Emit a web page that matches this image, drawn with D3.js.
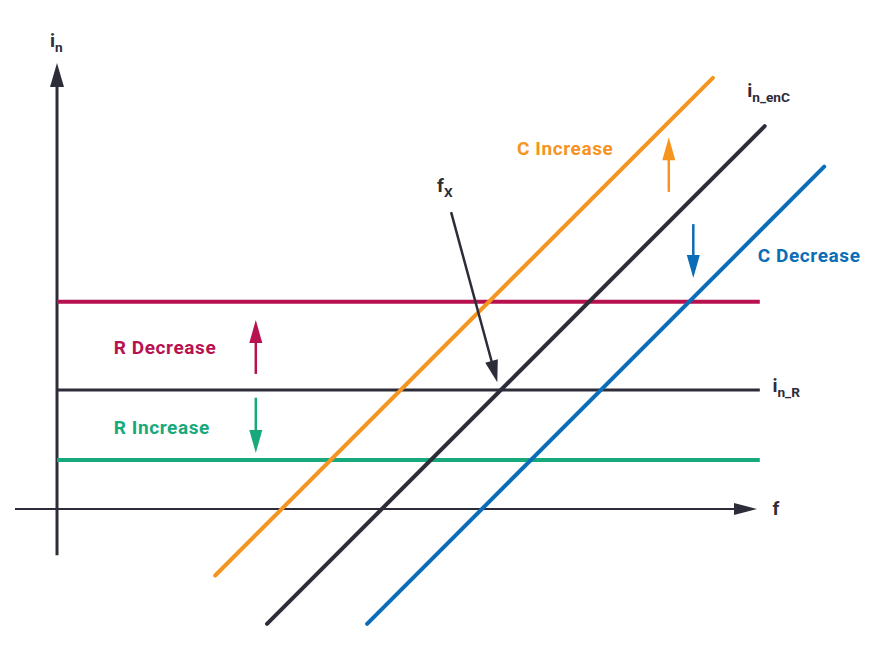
<!DOCTYPE html>
<html>
<head>
<meta charset="utf-8">
<script src="https://cdn.jsdelivr.net/npm/d3@7"></script>
<style>
  body { margin: 0; background: #fff; }
  text { font-family: Roboto, Inter, "Noto Sans", sans-serif; font-weight: 700; }
</style>
</head>
<body>
<div id="graph"></div>
<script>
// horizontal noise levels (R lines)
const levelNames = ["R Decrease", "in_R", "R Increase"];
const levelValues = [29.6, 17, 7];
const levelColors = ["#b7124f", "#2d2d39", "#17a97c"];

// diagonal noise lines (C lines): x where line crosses f axis, start and end in x
const slopeNames = ["C Increase", "in_enC", "C Decrease"];
const slopeIntercepts = [32.1, 46.4, 60.7];
const slopeStarts = [22.6, 30.0, 44.3];
const slopeEnds = [93.7, 101.1, 109.6];
const slopeColors = ["#f5941f", "#2d2d39", "#0b6db7"];

// small change arrows: [x, yFrom, yTo]
const arrowX = [87.4, 90.9, 28.4, 28.4];
const arrowFrom = [45.3, 40.7, 19.3, 15.9];
const arrowTo = [53.1, 33.0, 27.0, 8.0];
const arrowColors = ["#f5941f", "#0b6db7", "#b7124f", "#17a97c"];

// fx pointer
const fxFrom = [56.3, 42.4];
const fxTo = [62.9, 18.1];

let options = {
  width: 879,
  height: 645,
  dark: "#2d2d39"
};

let svg = d3.select("#graph")
  .append("svg")
  .attr("width", options.width)
  .attr("height", options.height);

let x = d3.scaleLinear().domain([0, 100]).range([57, 757]);
let y = d3.scaleLinear().domain([0, 64]).range([509, 61]);

let line = d3.line().x(d => x(d[0])).y(d => y(d[1]));

// arrow head as a polygon at the end of a segment (pixel coords)
function head(p0, p1, len, w, color) {
  let dx = p1[0] - p0[0], dy = p1[1] - p0[1];
  let l = Math.hypot(dx, dy);
  let ux = dx / l, uy = dy / l;
  let bx = p1[0] - ux * len, by = p1[1] - uy * len;
  svg.append("path")
     .attr("d", `M${p1[0]},${p1[1]}L${bx - uy * w / 2},${by + ux * w / 2}L${bx + uy * w / 2},${by - ux * w / 2}Z`)
     .attr("fill", color);
}

function arrow(a, b, color, width, len, w) {
  let p0 = [x(a[0]), y(a[1])], p1 = [x(b[0]), y(b[1])];
  let dx = p1[0] - p0[0], dy = p1[1] - p0[1];
  let l = Math.hypot(dx, dy);
  let end = [p1[0] - dx / l * (len - 2), p1[1] - dy / l * (len - 2)];
  svg.append("line")
     .attr("x1", p0[0]).attr("y1", p0[1])
     .attr("x2", end[0]).attr("y2", end[1])
     .attr("stroke", color)
     .attr("stroke-width", width);
  head(p0, p1, len, w, color);
}

// axes
arrow([0, -6.6], [0, 63.7], options.dark, 3, 24, 14);
arrow([-6, 0], [100, 0], options.dark, 2.2, 23, 12);

// horizontal lines
svg.selectAll(".level")
   .data(levelValues)
   .enter()
   .append("path")
   .attr("class", "level")
   .attr("d", d => line([[0, d], [100.4, d]]))
   .attr("stroke", (d, i) => levelColors[i])
   .attr("stroke-width", (d, i) => i === 1 ? 3 : 4)
   .attr("fill", "none");

// diagonal lines
svg.selectAll(".slope")
   .data(slopeIntercepts)
   .enter()
   .append("path")
   .attr("class", "slope")
   .attr("d", (d, i) => line([[slopeStarts[i], slopeStarts[i] - d], [slopeEnds[i], slopeEnds[i] - d]]))
   .attr("stroke", (d, i) => slopeColors[i])
   .attr("stroke-width", 4)
   .attr("stroke-linecap", "round")
   .attr("fill", "none");

// change arrows
arrowX.forEach((ax, i) => {
  arrow([ax, arrowFrom[i]], [ax, arrowTo[i]], arrowColors[i], 2.5, 23, 13);
});

// fx pointer
arrow(fxFrom, fxTo, options.dark, 2.5, 22, 13);

// labels
function label(px, py, txt, color, size) {
  return svg.append("text")
            .attr("x", px).attr("y", py)
            .attr("fill", color)
            .attr("font-size", size)
            .attr("letter-spacing", 0.6)
            .text(txt);
}

label(x(8.1), y(29.6) + 52, "R Decrease", levelColors[0], 19);
label(x(8.1), y(7) - 26, "R Increase", levelColors[2], 19);
label(x(65.7), y(51.4) + 6, "C Increase", slopeColors[0], 19);
label(x(100.1), y(36.3) + 7, "C Decrease", slopeColors[2], 19);

function sub(px, py, main, s, size) {
  let t = svg.append("text")
             .attr("x", px).attr("y", py)
             .attr("fill", options.dark)
             .attr("font-size", size);
  t.append("tspan").text(main);
  t.append("tspan").attr("dy", 5).attr("font-size", size * 0.72).text(s);
}

sub(50, 47, "i", "n", 19);
sub(x(98.6), y(58.8), "i", "n_enC", 19);
sub(x(102.2), y(16.7), "i", "n_R", 19);
sub(x(54.3), y(45.3), "f", "X", 19);
label(x(102.2), y(-0.9), "f", options.dark, 19);
</script>
</body>
</html>
